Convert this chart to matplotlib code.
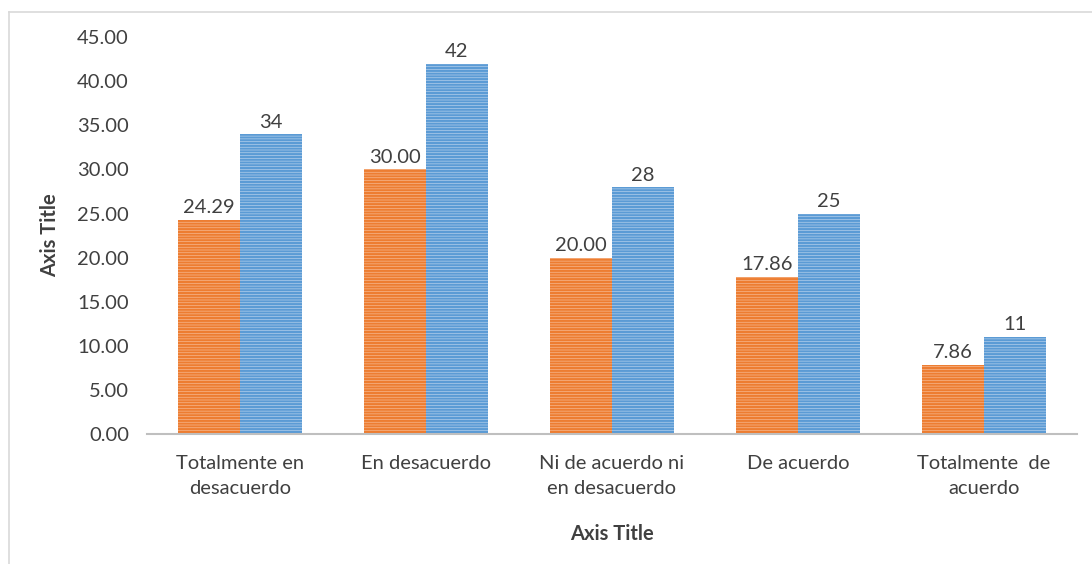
import numpy as np
import matplotlib
matplotlib.use("Agg")
from matplotlib import pyplot as plt
from matplotlib.lines import Line2D

categories = ["Totalmente en\ndesacuerdo", "En desacuerdo", "Ni de acuerdo ni\nen desacuerdo",
              "De acuerdo", "Totalmente  de\nacuerdo"]
percent = [24.29, 30.00, 20.00, 17.86, 7.86]
counts = [34, 42, 28, 25, 11]
yticks = np.arange(0, 50, 5)

plt.rcParams['font.family'] = ['Lato', 'DejaVu Sans']
plt.rcParams['hatch.linewidth'] = 1.6

fig = plt.figure(figsize=(10.92, 5.64), dpi=100)
ax = fig.add_axes([0.1346, 0.2305, 0.8514, 0.7035])

x = np.arange(len(categories))
w = 1 / 3
fs = 14.5

b1 = ax.bar(x - w / 2, percent, w, color='#F8C7A6', edgecolor='#ED7D31', linewidth=0,
            hatch='------')
for p in b1:
    if hasattr(p, 'set_hatch_color'):
        p.set_hatch_color('#ED7D31')
b2 = ax.bar(x + w / 2, counts, w, color='#C9DCF1', edgecolor='#5B9BD5', linewidth=0,
            hatch='------')
for p in b2:
    if hasattr(p, 'set_hatch_color'):
        p.set_hatch_color('#5B9BD5')

txt = '#404040'
for xi, v in zip(x - w / 2, percent):
    ax.text(xi, v + 0.4, f"{v:.2f}", ha='center', va='bottom', fontsize=fs, color=txt)
for xi, v in zip(x + w / 2, counts):
    ax.text(xi, v + 0.4, f"{v}", ha='center', va='bottom', fontsize=fs, color=txt)

ax.set_xlim(-0.5, len(categories) - 0.5)
ax.set_ylim(0, 45)
ax.set_yticks(yticks)
ax.set_yticklabels([f"{t:.2f}" for t in yticks], fontsize=fs, color=txt)
ax.set_xticks(x)
ax.set_xticklabels(categories, fontsize=fs, color=txt, linespacing=1.6)
ax.tick_params(axis='x', length=0, pad=15)
ax.tick_params(axis='y', length=0, pad=13)
for s in ['top', 'right', 'left']:
    ax.spines[s].set_visible(False)
ax.spines['bottom'].set_color('#BFBFBF')
ax.spines['bottom'].set_linewidth(1.5)

ax.set_xlabel('Axis Title', fontsize=fs, fontweight='bold', color=txt, labelpad=19)
ax.set_ylabel('Axis Title', fontsize=fs, fontweight='bold', color=txt, labelpad=12)

# outer chart border (left and top edges visible)
fig.add_artist(Line2D([8.5 / 1092, 8.5 / 1092], [0, 1 - 11.5 / 564], color='#D9D9D9', lw=1.2))
fig.add_artist(Line2D([8.5 / 1092, 1], [1 - 11.5 / 564, 1 - 11.5 / 564], color='#D9D9D9', lw=1.2))

fig.savefig('out.png', dpi=100)
